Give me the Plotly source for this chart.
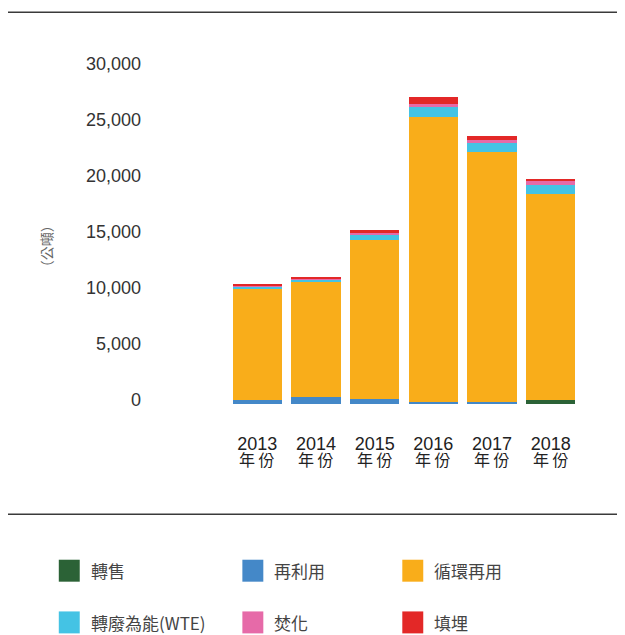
import plotly.graph_objects as go

# -----------------------------
# Data (tonnes)
# -----------------------------
YEARS = ["2013", "2014", "2015", "2016", "2017", "2018"]
RESALE = [0, 0, 0, 0, 0, 330]
REUSE = [330, 600, 420, 150, 200, 0]
RECYCLE = [9920, 10250, 14200, 25520, 22280, 18450]
WTE = [210, 240, 475, 890, 830, 800]
INCINERATION = [120, 140, 180, 270, 300, 360]
LANDFILL = [90, 150, 300, 620, 300, 180]

NAMES = ["轉售", "再利用", "循環再用", "轉廢為能(WTE)", "焚化", "填埋"]
COLORS = ["#2b6236", "#4488c8", "#f9ad1a", "#44c3e4", "#e66aa8", "#e32827"]
SERIES = [RESALE, REUSE, RECYCLE, WTE, INCINERATION, LANDFILL]

Y_TICKS = [0, 5000, 10000, 15000, 20000, 25000, 30000]

# -----------------------------
# Layout geometry (pixels)
# the page puts the figure 8px in from the top-left, so the figure is
# sized to the visible window and page coords are shifted by OFF
# -----------------------------
OFF = 8
W, H = 625 - OFF, 635 - OFF
L, R, T, B = 219.6, 44.6, 59.9, 230.5
PW = W - L - R
PH = H - T - B

FONT = "Liberation Sans, Arial, Noto Sans CJK TC, sans-serif"
CJK = "Noto Sans CJK TC, Liberation Sans, sans-serif"


def px_x(x):
    # page x -> paper x
    return (x - OFF - L) / PW


def px_y(y):
    # page y -> paper y
    return (H - B - (y - OFF)) / PH


pos = list(range(len(YEARS)))

fig = go.Figure()
for name, color, vals in zip(NAMES, COLORS, SERIES):
    fig.add_trace(go.Bar(x=pos, y=vals, name=name, marker_color=color,
                         marker_line_width=0, showlegend=False))

# year sub-labels under the axis ticks
annotations = []
for p in pos:
    annotations.append(dict(x=p, xref="x", y=px_y(460), yref="paper", text="年 份",
                            showarrow=False, yanchor="middle",
                            font=dict(family=CJK, size=16, color="#222222")))

# y-axis title
annotations.append(dict(x=px_x(34), xref="paper", y=px_y(246.7), yref="paper",
                        text="（公噸）", textangle=-90, showarrow=False,
                        font=dict(family=CJK, size=14, color="#666666")))

# rules top and bottom
shapes = []
for yy in [12, 515]:
    shapes.append(dict(type="line", xref="paper", yref="paper",
                       x0=px_x(7), x1=px_x(640), y0=px_y(yy), y1=px_y(yy),
                       line=dict(color="#3a3a3a", width=1.6)))

# manual legend, 3 columns x 2 rows
col_x = [58, 242, 402.3]
row_y = [571.5, 623.3]
for i, (name, color) in enumerate(zip(NAMES, COLORS)):
    cx = col_x[i % 3]
    cy = row_y[i // 3]
    shapes.append(dict(type="rect", xref="paper", yref="paper",
                       x0=px_x(cx), x1=px_x(cx + 21), y0=px_y(cy - 11), y1=px_y(cy + 11),
                       fillcolor=color, line=dict(width=0)))
    annotations.append(dict(x=px_x(cx + 30), xref="paper", y=px_y(cy), yref="paper",
                            text=name, showarrow=False, xanchor="left", yanchor="middle",
                            font=dict(family=CJK, size=17, color="#444444")))

fig.update_layout(
    width=W, height=H,
    template="none",
    barmode="stack",
    bargap=0.158,
    margin=dict(l=L, r=R, t=T, b=B, pad=0, autoexpand=False),
    paper_bgcolor="white",
    plot_bgcolor="white",
    font=dict(family=FONT, color="#333333"),
    xaxis=dict(
        range=[-0.5, 5.5],
        tickvals=pos,
        ticktext=YEARS,
        automargin=False,
        showgrid=False, zeroline=False, showline=False, ticks="",
        tickfont=dict(family=FONT, size=18, color="#222222"),
        ticklabelstandoff=27,
    ),
    yaxis=dict(
        range=[0, 30000],
        tickvals=Y_TICKS,
        tickformat=",",
        automargin=False,
        showgrid=False, zeroline=False, showline=False, ticks="",
        tickfont=dict(family=FONT, size=18, color="#333333"),
        ticklabelstandoff=86,
        ticklabelshift=-4,
    ),
    annotations=annotations,
    shapes=shapes,
)

fig.write_html("out.html")
